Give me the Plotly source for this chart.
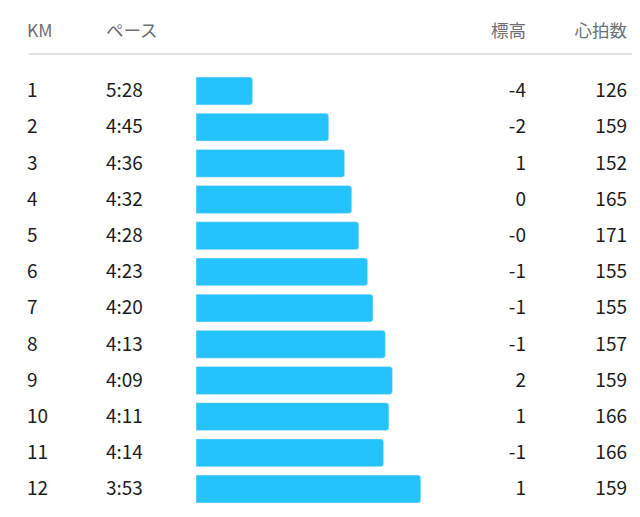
import plotly.graph_objects as go

# ラップデータ
km = [1, 2, 3, 4, 5, 6, 7, 8, 9, 10, 11, 12]
pace = ['5:28', '4:45', '4:36', '4:32', '4:28', '4:23', '4:20', '4:13', '4:09', '4:11', '4:14', '3:53']
elev = ['-4', '-2', '1', '0', '-0', '-1', '-1', '-1', '2', '1', '-1', '1']
hr = [126, 159, 152, 165, 171, 155, 155, 157, 159, 166, 166, 159]
headers = ['KM', 'ペース', '標高', '心拍数']

# バーの長さ = 6:00 からの差(秒)
pace_sec = [int(p.split(':')[0]) * 60 + int(p.split(':')[1]) for p in pace]
bar_val = [360 - s for s in pace_sec]

# ページの body margin (8px) 分ずらす
OFF = 8
W, H = 640 - OFF, 517 - OFF
row_px = (489 - 91) / 11
y_top = 1 - (91 - OFF) / row_px
y_bot = 12 + (H - (489 - OFF)) / row_px
bar_x0 = 196 - OFF
txt_dy = 1.5 / row_px  # 文字を少し下げる

FONT = 'Noto Sans CJK JP'
DARK = '#1c1c1e'
GRAY = '#6e6e73'
BLUE = '#25c3fd'

fig = go.Figure()

fig.add_trace(go.Bar(x=bar_val, y=km, orientation='h', marker_color=BLUE,
                     width=0.77, xaxis='x', yaxis='y', hoverinfo='skip'))

header_y = 1 - (91 - 33) / row_px

# 文字列の列
def text_col(xpos, vals, pos, color=DARK, size=19, ys=None):
    if ys is None:
        ys = [k + txt_dy for k in km]
    fig.add_trace(go.Scatter(x=[xpos - OFF] * len(vals), y=ys,
                             mode='text', text=[str(v) for v in vals], textposition=pos,
                             textfont=dict(family=FONT, size=size, color=color),
                             xaxis='x2', yaxis='y', hoverinfo='skip'))

text_col(27, km, 'middle right')
text_col(106, pace, 'middle right')
text_col(526, elev, 'middle left')
text_col(627, hr, 'middle left')

# ヘッダー
text_col(27, [headers[0]], 'middle right', GRAY, 17.5, [header_y])
text_col(106, [headers[1]], 'middle right', GRAY, 17.5, [header_y])
text_col(526, [headers[2]], 'middle left', GRAY, 17.5, [header_y])
text_col(627, [headers[3]], 'middle left', GRAY, 17.5, [header_y])

fig.add_shape(type='line', xref='x2', yref='paper', x0=29 - OFF, x1=W,
              y0=1 - (54 - OFF) / H, y1=1 - (54 - OFF) / H, line=dict(color='#c8c8cc', width=1))

fig.update_layout(
    width=W, height=H, margin=dict(l=0, r=0, t=0, b=0),
    paper_bgcolor='white', plot_bgcolor='rgba(0,0,0,0)', showlegend=False,
    barcornerradius=3,
    xaxis=dict(domain=[bar_x0 / W, 1], range=[0, (W - bar_x0) / 1.77], anchor='y',
               visible=False, fixedrange=True),
    xaxis2=dict(domain=[0, 1], range=[0, W], anchor='y', visible=False, fixedrange=True),
    yaxis=dict(range=[y_bot, y_top], visible=False, fixedrange=True),
)

fig.write_html('out.html')
